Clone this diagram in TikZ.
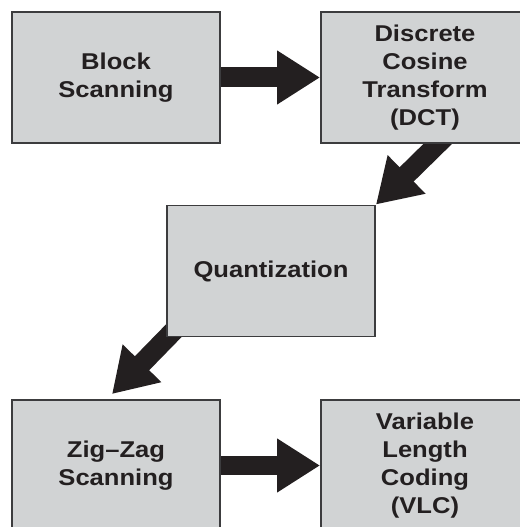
\documentclass[tikz,border=0pt]{standalone}
\usepackage{fontspec}
\setmainfont{Liberation Sans}[FakeStretch=1.12]
\usetikzlibrary{arrows.meta,backgrounds}
\definecolor{boxgray}{RGB}{209,211,212}
\definecolor{rim}{RGB}{60,60,62}
\definecolor{ink}{RGB}{35,31,32}
\tikzset{
  stage/.style={draw=rim,line width=1.1pt,fill=boxgray,minimum width=4.16cm,
    minimum height=2.62cm,align=center,text=ink,
    font=\fontsize{13}{16}\selectfont\bfseries},
  fat/.style={draw=ink,line width=0.4cm,
    -{Triangle[length=0.86cm,width=1.02cm]}},
}
\begin{document}
\begin{tikzpicture}[x=0.02cm,y=0.02cm]
  \useasboundingbox (0,0) rectangle (520,527);
  \node[stage] (blk) at (116,449.5) {Block\\Scanning};
  \node[stage] (dct) at (425,449.5) {Discrete\\Cosine\\Transform\\(DCT)};
  \node[stage] (qnt) at (271,256) {Quantization};
  \node[stage] (zz) at (116,61.5) {Zig--Zag\\Scanning};
  \node[stage] (vlc) at (425,61.5) {Variable\\Length\\Coding\\(VLC)};
  % arrow tails hidden behind the boxes
  \coordinate (t1) at (459,404);
  \coordinate (t2) at (194,217);
  \begin{scope}[on background layer]
    \draw[fat] (blk.east) -- (dct.west);
    \draw[fat] (t1) -- (qnt.north east);
    \draw[fat] (t2) -- ([xshift=-0.08cm,yshift=0.1cm]zz.north);
    \draw[fat] (zz.east) -- (vlc.west);
  \end{scope}
\end{tikzpicture}
\end{document}
